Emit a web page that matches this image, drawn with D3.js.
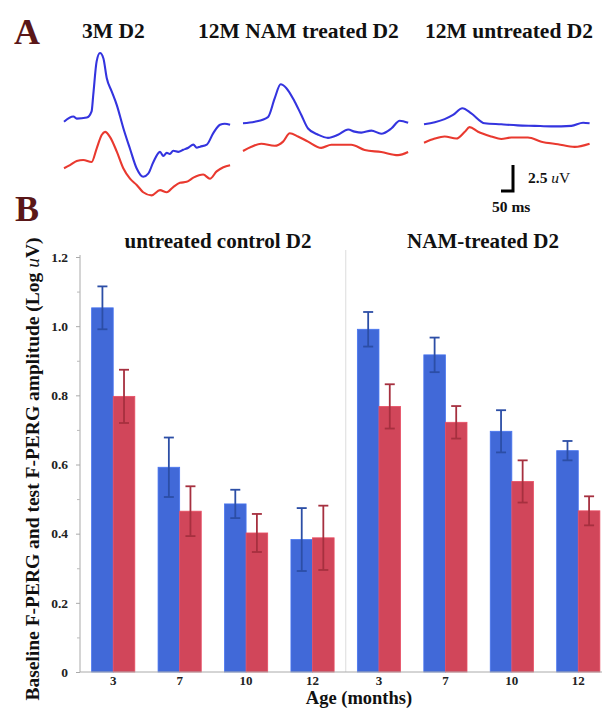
<!DOCTYPE html>
<html><head><meta charset="utf-8">
<script src="https://d3js.org/d3.v7.min.js"></script>
<style>
html,body{margin:0;padding:0;background:#fff;}
svg{display:block;font-family:"Liberation Serif","Times New Roman",serif;}
</style></head>
<body><svg id="c" width="602" height="709"></svg>
<script>
// ---------- Panel A data: F-PERG waveforms (time ms, amplitude uV relative to trace start) ----------
const traceTitles = ["3M D2", "12M NAM treated D2", "12M untreated D2"];
const trace3M_base = [[0,0],[39,0.5],[53,0.3],[95,0.4],[115,1.0],[122,2.6],[136,5.8],[150,6.6],[164,6.1],[178,4.2],[199,2.9],[220,1.6],[247,-0.6],[275,-2.6],[303,-4.5],[330,-5.3],[351,-5.0],[372,-3.9],[400,-2.9],[414,-3.3],[428,-3.0],[441,-3.1],[455,-2.8],[476,-2.9],[497,-2.7],[518,-2.5],[539,-2.2],[553,-2.5],[567,-2.4],[595,-2.2],[622,-1.1],[650,-0.3],[670,-0.2],[692,-0.3]];
const trace3M_test = [[0,0],[25,0.3],[53,0.7],[80,0.8],[115,0.6],[136,1.9],[157,3.2],[171,3.5],[192,3.0],[220,1.6],[247,0],[275,-1.0],[303,-1.6],[330,-2.3],[365,-2.6],[400,-2.1],[428,-2.3],[455,-1.8],[483,-1.4],[511,-1.3],[539,-0.9],[580,-0.6],[608,-1.0],[636,-0.3],[664,0.1],[692,0.3]];
const traceNAM_base = [[0,0],[49,0.15],[104,0.6],[132,2.4],[157,3.75],[180,3.4],[215,2.1],[243,0.8],[271,-0.5],[313,-1.1],[354,-1.4],[396,-1.1],[438,-0.6],[465,-0.8],[493,-0.9],[535,-0.7],[576,-1.0],[618,-0.5],[653,0.25],[688,0.05]];
const traceNAM_test = [[0,0],[35,0.4],[76,0.7],[132,0.5],[167,0.9],[195,1.7],[229,1.4],[271,0.9],[326,0.3],[368,0.6],[451,0.6],[507,0.1],[576,-0.1],[646,-0.4],[688,-0.1]];
const traceUnt_base = [[0,0],[45,0.2],[86,0.5],[121,0.9],[160,1.55],[197,1.05],[253,0.1],[322,0],[390,-0.1],[461,-0.15],[530,-0.2],[614,-0.15],[663,0.15],[690,0.1]];
const traceUnt_test = [[0,0],[45,0.4],[86,0.6],[135,0.4],[170,1.05],[190,1.5],[225,1.05],[280,0.6],[322,0.35],[364,0.5],[433,0.5],[489,0.1],[558,-0.15],[628,-0.4],[690,-0.1]];
const scaleBarUV = 2.5, scaleBarMs = 50;

// ---------- Panel B data ----------
const groups = ["untreated control D2", "NAM-treated D2"];
const ages = ["3", "7", "10", "12"];
const baselineMean = [1.053, 0.592, 0.486, 0.383, 0.991, 0.917, 0.696, 0.640];
const baselineErr  = [0.062, 0.086, 0.041, 0.091, 0.050, 0.050, 0.061, 0.028];
const testMean     = [0.797, 0.465, 0.402, 0.388, 0.768, 0.722, 0.551, 0.466];
const testErr      = [0.077, 0.072, 0.055, 0.093, 0.064, 0.047, 0.061, 0.042];
const yTicks = [0, 0.2, 0.4, 0.6, 0.8, 1.0, 1.2];
const yMinorTicks = [0.1, 0.3, 0.5, 0.7, 0.9, 1.1];

const svg = d3.select("#c");
const BLUE = "#4169d8", RED = "#d1465a", BLUE_E = "#2c4ea6", RED_E = "#a6303f";

// ---------- Panel A ----------
svg.append("text").attr("x", 14).attr("y", 44).attr("font-size", 36).attr("font-weight", "bold")
  .attr("fill", "#5a1718").text("A");
svg.append("text").attr("x", 15).attr("y", 221).attr("font-size", 36).attr("font-weight", "bold")
  .attr("fill", "#5a1718").text("B");

const titleX = [82, 198, 425];
traceTitles.forEach((t, i) => {
  svg.append("text").attr("x", titleX[i]).attr("y", 38).attr("font-size", 21.5).attr("font-weight", "bold")
    .attr("fill", "#111").text(t);
});

const tScale = d3.scaleLinear().domain([0, 50]).range([0, 12]);
const vScale = d3.scaleLinear().domain([0, 2.5]).range([0, -26]);
const traceLayout = [
  {data: trace3M_base, x0: 64, y0: 121.7, c: "#3434df"},
  {data: trace3M_test, x0: 64, y0: 168.3, c: "#e9392f"},
  {data: traceNAM_base, x0: 243, y0: 123.3, c: "#3434df"},
  {data: traceNAM_test, x0: 243, y0: 151, c: "#e9392f"},
  {data: traceUnt_base, x0: 424, y0: 124.3, c: "#3434df"},
  {data: traceUnt_test, x0: 424, y0: 142.7, c: "#e9392f"}
];
traceLayout.forEach(tr => {
  const line = d3.line().x(d => tr.x0 + tScale(d[0])).y(d => tr.y0 + vScale(d[1])).curve(d3.curveMonotoneX);
  svg.append("path").attr("d", line(tr.data))
    .attr("fill", "none").attr("stroke", tr.c).attr("stroke-width", 2.1).attr("stroke-linejoin", "round");
});

// scale bar
const sbx = 513, sby = 191;
svg.append("path")
  .attr("d", `M${sbx},${sby + vScale(scaleBarUV)}L${sbx},${sby}L${sbx - tScale(scaleBarMs)},${sby}`)
  .attr("fill", "none").attr("stroke", "#000").attr("stroke-width", 3);
const sbt = svg.append("text").attr("x", 528).attr("y", 183).attr("font-size", 15.5).attr("fill", "#111");
sbt.append("tspan").attr("font-weight", "bold").text("2.5 ");
sbt.append("tspan").attr("font-style", "italic").text("u");
sbt.append("tspan").text("V");
svg.append("text").attr("x", 492).attr("y", 212).attr("font-size", 15.5).attr("font-weight", "bold")
  .attr("fill", "#111").text("50 ms");

// ---------- Panel B ----------
const keys = d3.range(8);
const x = d3.scaleBand().domain(keys).range([80, 611.5]).paddingInner(0.35).paddingOuter(0.175);
const xs = d3.scaleBand().domain(["baseline", "test"]).range([0, x.bandwidth()]);
const y = d3.scaleLinear().domain([0, 1.2]).range([672, 257]);

// divider
const divX = x(4) - x.step() * x.paddingInner() / 2;
svg.append("line").attr("x1", divX).attr("x2", divX).attr("y1", 250).attr("y2", y(0))
  .attr("stroke", "#dcdcdc").attr("stroke-width", 1);

// group titles
const gTitleX = [218, 483];
groups.forEach((g, i) => {
  svg.append("text").attr("x", gTitleX[i]).attr("y", 248).attr("text-anchor", "middle")
    .attr("font-size", 21).attr("font-weight", "bold").attr("fill", "#111").text(g);
});

// bars
const series = [
  {key: "baseline", mean: baselineMean, err: baselineErr, fill: BLUE, ec: BLUE_E},
  {key: "test", mean: testMean, err: testErr, fill: RED, ec: RED_E}
];
series.forEach(s => {
  const g = svg.append("g");
  keys.forEach(k => {
    const bx = x(k) + xs(s.key);
    g.append("rect").attr("x", bx).attr("width", xs.bandwidth())
      .attr("y", y(s.mean[k])).attr("height", y(0) - y(s.mean[k]))
      .attr("fill", s.fill).attr("stroke", d3.color(s.fill).brighter(0.3)).attr("stroke-width", 0.8);
  });
});
series.forEach(s => {
  const g = svg.append("g").attr("stroke", s.ec).attr("stroke-width", 1.8).attr("fill", "none");
  keys.forEach(k => {
    const cx = x(k) + xs(s.key) + xs.bandwidth() / 2;
    const hi = y(s.mean[k] + s.err[k]), lo = y(s.mean[k] - s.err[k]);
    g.append("line").attr("x1", cx).attr("x2", cx).attr("y1", hi).attr("y2", lo);
    g.append("line").attr("x1", cx - 5).attr("x2", cx + 5).attr("y1", hi).attr("y2", hi);
    g.append("line").attr("x1", cx - 5).attr("x2", cx + 5).attr("y1", lo).attr("y2", lo);
  });
});

// y axis
const yAxis = svg.append("g").attr("transform", "translate(80,0)")
  .call(d3.axisLeft(y).tickValues(yTicks).tickSize(4).tickPadding(8)
    .tickFormat(d => d === 0 ? "0" : d3.format(".1f")(d)));
yAxis.select(".domain").attr("stroke", "#aaa").attr("d", `M0,${y(1.2) - 2}V${y(0)}`);
yAxis.selectAll(".tick line").attr("stroke", "#aaa");
yAxis.selectAll(".tick text").attr("font-family", "Liberation Serif").attr("font-size", 13.5)
  .attr("font-weight", "bold").attr("fill", "#222");
const yMinor = svg.append("g").attr("transform", "translate(80,0)")
  .call(d3.axisLeft(y).tickValues(yMinorTicks).tickSize(3).tickFormat(""));
yMinor.select(".domain").remove();
yMinor.selectAll(".tick line").attr("stroke", "#bbb");

// x axis
const xAxis = svg.append("g").attr("transform", `translate(0,${y(0)})`)
  .call(d3.axisBottom(x).tickSize(0).tickPadding(4).tickFormat(k => ages[k % 4]));
xAxis.select(".domain").attr("stroke", "#aaa").attr("d", `M80,0H602`);
xAxis.selectAll(".tick text").attr("font-family", "Liberation Serif").attr("font-size", 13)
  .attr("font-weight", "bold").attr("fill", "#222");

svg.append("text").attr("x", 359).attr("y", 704).attr("text-anchor", "middle")
  .attr("font-size", 18.5).attr("font-weight", "bold").attr("fill", "#111").text("Age (months)");

// y title
const yt = svg.append("text").attr("transform", "translate(38.5,469) rotate(-90)")
  .attr("text-anchor", "middle").attr("font-size", 19.5).attr("font-weight", "bold").attr("fill", "#111");
yt.append("tspan").text("Baseline F-PERG and test F-PERG amplitude (Log ");
yt.append("tspan").attr("font-style", "italic").attr("font-weight", "normal").text("u");
yt.append("tspan").text("V)");
</script></body></html>
